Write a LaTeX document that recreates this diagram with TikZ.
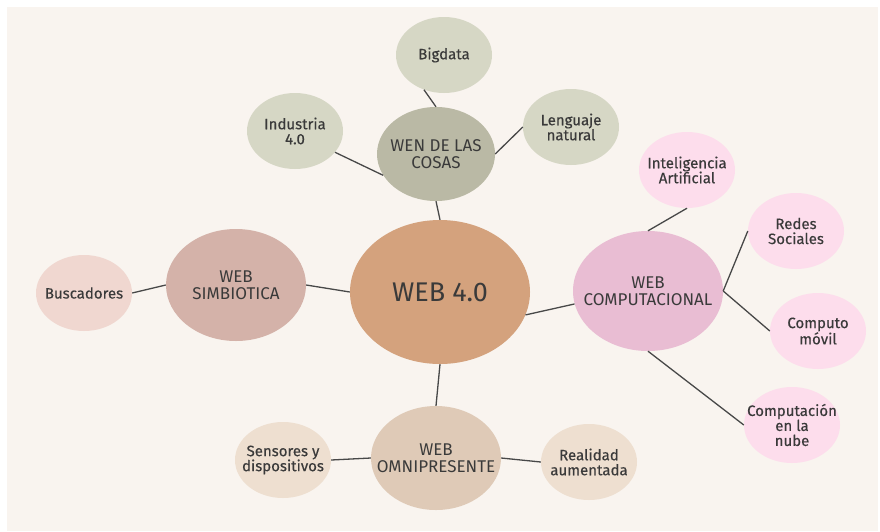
\documentclass[tikz,border=0pt]{standalone}
\usepackage{fontspec}
\setmainfont{Fira Sans}
\newfontfamily\hojafont[FakeBold=0.35]{Fira Sans}
\usetikzlibrary{shapes.geometric}
\definecolor{fondo}{HTML}{F9F4EF}
\definecolor{texto}{HTML}{3A3A3A}
\definecolor{linea}{HTML}{484848}
\definecolor{centro}{HTML}{D4A27D}
\definecolor{cosas}{HTML}{BAB9A5}
\definecolor{cosasclaro}{HTML}{D6D7C5}
\definecolor{simbio}{HTML}{D4B2A9}
\definecolor{simbioclaro}{HTML}{F0D7D0}
\definecolor{omni}{HTML}{DFCAB7}
\definecolor{omniclaro}{HTML}{EEDFD0}
\definecolor{compu}{HTML}{E9BDD3}
\definecolor{compuclaro}{HTML}{FDDDEC}
\begin{document}
\begin{tikzpicture}[x=1pt,y=-1pt]
  \tikzstyle{every node}=[ellipse,inner sep=0pt,align=center,text=texto]
  \tikzstyle{tematxt}=[font=\fontsize{17}{17}\selectfont]
  \tikzstyle{hojatxt}=[font=\hojafont\fontsize{15}{15}\selectfont]
  \tikzstyle{hoja}=[minimum width=96pt,minimum height=76pt]
  \tikzstyle{rama}=[draw=linea,line width=1.3pt]
  \useasboundingbox (0,0) rectangle (880,531);
  \fill[white] (0,0) rectangle (880,531);
  \fill[fondo] (7,7) rectangle (878,531);
  \node[fill=centro,minimum width=180pt,minimum height=144pt,font=\fontsize{27}{27}\selectfont] (web) at (440,292) {WEB 4.0};
  \node[fill=cosas,minimum width=118pt,minimum height=94pt,label={[tematxt]center:WEN DE LAS\\COSAS}] (cosas) at (436,154) {};
  \node[fill=simbio,minimum width=140pt,minimum height=112pt,label={[tematxt]center:WEB\\SIMBIOTICA}] (simb) at (236,285) {};
  \node[fill=omni,minimum width=130pt,minimum height=104pt,label={[tematxt]center:WEB\\OMNIPRESENTE}] (omni) at (436,458) {};
  \node[fill=compu,minimum width=150pt,minimum height=120pt,label={[tematxt]center:WEB\\COMPUTACIONAL}] (comp) at (648,291) {};
  \node[hoja,fill=cosasclaro,label={[hojatxt]center:Bigdata}] (big) at (444,55) {};
  \node[hoja,fill=cosasclaro,label={[hojatxt]center:Industria\\4.0}] (ind) at (295,131) {};
  \node[hoja,fill=cosasclaro,label={[hojatxt]center:Lenguaje\\natural}] (len) at (571,127) {};
  \node[hoja,fill=simbioclaro,label={[hojatxt]center:Buscadores}] (bus) at (84,293) {};
  \node[hoja,fill=omniclaro,label={[hojatxt]center:Sensores y\\dispositivos}] (sen) at (283,460) {};
  \node[hoja,fill=omniclaro,label={[hojatxt]center:Realidad\\aumentada}] (rea) at (589,462) {};
  \node[hoja,fill=compuclaro,label={[hojatxt]center:Inteligencia\\Artificial}] (ia) at (687,170) {};
  \node[hoja,fill=compuclaro,label={[hojatxt]center:Redes\\Sociales}] (red) at (796,231) {};
  \node[hoja,fill=compuclaro,label={[hojatxt]center:Computo\\móvil}] (mov) at (818,331) {};
  \node[hoja,fill=compuclaro,label={[hojatxt]center:Computación\\en la\\nube}] (nube) at (792,425) {};
  \draw[rama] (cosas.south) -- (web.north);
  \draw[rama] (big.-120) -- (cosas.north);
  \draw[rama] (ind.-28) -- (cosas.202);
  \draw[rama] (len.west) -- (cosas.east);
  \draw[rama] (bus.east) -- (simb.west);
  \draw[rama] (simb.east) -- (web.west);
  \draw[rama] (web.south) -- (omni.north);
  \draw[rama] (sen.east) -- (omni.west);
  \draw[rama] (omni.east) -- (rea.west);
  \draw[rama] (web.-15) -- (comp.190);
  \draw[rama] (ia.south) -- (comp.north);
  \draw[rama] (comp.east) -- (red.west);
  \draw[rama] (comp.east) -- (mov.west);
  \draw[rama] (comp.south) -- (nube.west);
\end{tikzpicture}
\end{document}
